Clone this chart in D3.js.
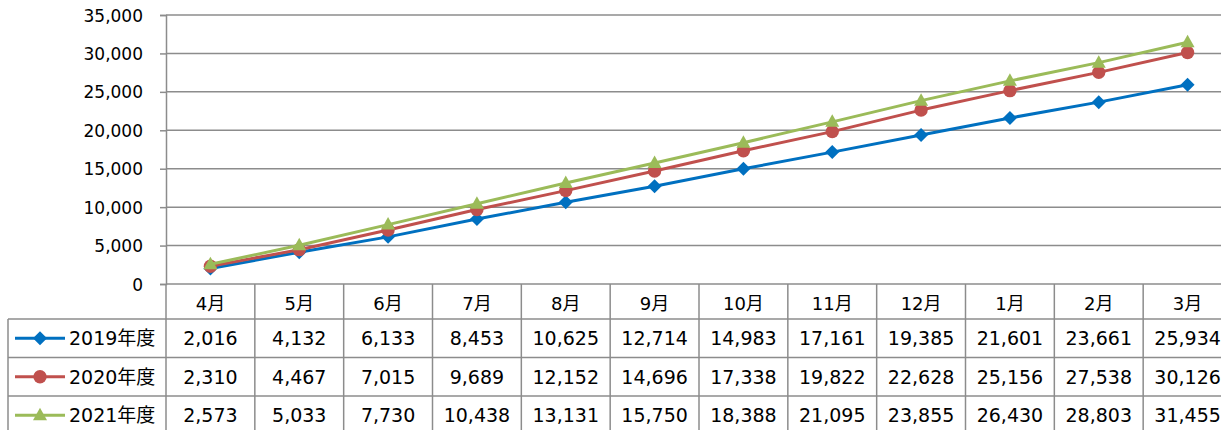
<!DOCTYPE html>
<html><head><meta charset="utf-8">
<script src="https://cdn.jsdelivr.net/npm/d3@7"></script>
<style>body{margin:0;background:#fff;} text{font-family:"DejaVu Sans","Noto Sans CJK JP",sans-serif;}</style>
</head><body>
<svg id="c" width="1221" height="430"></svg>
<script>
const categories = ["4月","5月","6月","7月","8月","9月","10月","11月","12月","1月","2月","3月"];
const seriesNames = ["2019年度","2020年度","2021年度"];
const s2019 = [2016,4132,6133,8453,10625,12714,14983,17161,19385,21601,23661,25934];
const s2020 = [2310,4467,7015,9689,12152,14696,17338,19822,22628,25156,27538,30126];
const s2021 = [2573,5033,7730,10438,13131,15750,18388,21095,23855,26430,28803,31455];
const yTicks = [0,5000,10000,15000,20000,25000,30000,35000];
const colors = ["#0070C0","#C0504D","#9BBB59"];
const markers = ["diamond","circle","triangle"];
const series = [s2019,s2020,s2021];

const svg = d3.select("#c");
const pLeft = 166, pRight = 1232, pTop = 15, pBottom = 284;
const x = d3.scaleBand().domain(categories).range([pLeft,pRight]);
const y = d3.scaleLinear().domain([0,35000]).range([pBottom,pTop]);
const grid = "#8c8c8c";
const fmt = d3.format(",");

const yAxis = d3.axisLeft(y).tickValues(yTicks).tickSize(6).tickFormat(fmt);
const ga = svg.append("g").attr("transform",`translate(${pLeft},0)`).call(yAxis);
ga.select(".domain").attr("stroke",grid).attr("stroke-width",1.5);
ga.selectAll(".tick line").attr("stroke",grid).attr("stroke-width",1.5);
ga.selectAll(".tick text").attr("x",-23).attr("dy","0.36em").attr("font-size",17).attr("fill","#000")
  .style("font-family",'"DejaVu Sans",sans-serif');
svg.append("g").selectAll("line").data(yTicks).join("line")
  .attr("x1",pLeft).attr("x2",pRight).attr("y1",d=>y(d)).attr("y2",d=>y(d))
  .attr("stroke",grid).attr("stroke-width",1.5);

const rowH = 38.5, headH = 35;
const tableLeft = 8;
const rowTops = [pBottom+headH, pBottom+headH+rowH, pBottom+headH+2*rowH];
const tb = svg.append("g");
rowTops.forEach(t=>{
  tb.append("line").attr("x1",tableLeft).attr("x2",pRight).attr("y1",t).attr("y2",t).attr("stroke",grid).attr("stroke-width",1.5);
});
tb.append("line").attr("x1",tableLeft).attr("x2",tableLeft).attr("y1",rowTops[0]).attr("y2",440).attr("stroke",grid).attr("stroke-width",1.5);
tb.append("line").attr("x1",pLeft).attr("x2",pLeft).attr("y1",pBottom).attr("y2",440).attr("stroke",grid).attr("stroke-width",1.5);
categories.forEach(c=>{
  tb.append("line").attr("x1",x(c)+x.bandwidth()).attr("x2",x(c)+x.bandwidth()).attr("y1",pBottom).attr("y2",440).attr("stroke",grid).attr("stroke-width",1.5);
});
tb.selectAll("text.h").data(categories).join("text").attr("class","h")
  .attr("x",d=>x(d)+x.bandwidth()/2).attr("y",pBottom+25.5)
  .attr("text-anchor","middle").attr("font-size",18).text(d=>d);
series.forEach((s,i)=>{
  tb.selectAll("text.v"+i).data(s).join("text").attr("class","v"+i)
    .attr("x",(d,j)=>x(categories[j])+x.bandwidth()/2).attr("y",rowTops[i]+rowH/2+7)
    .attr("text-anchor","middle").attr("font-size",19).text(d=>fmt(d));
});

function markerPath(type){
  if(type==="diamond") return "M0,-7L7,0L0,7L-7,0Z";
  if(type==="circle") return d3.symbol(d3.symbolCircle, 140)();
  return "M0,-7.5L7,5L-7,5Z";
}

seriesNames.forEach((n,i)=>{
  const cy = rowTops[i]+rowH/2;
  tb.append("line").attr("x1",15).attr("x2",65).attr("y1",cy).attr("y2",cy).attr("stroke",colors[i]).attr("stroke-width",3);
  tb.append("path").attr("d",markerPath(markers[i])).attr("transform",`translate(40,${cy})`).attr("fill",colors[i]);
  tb.append("text").attr("x",69).attr("y",cy+7).attr("font-size",19).text(n);
});

const line = d3.line().x((d,j)=>x(categories[j])+x.bandwidth()/2).y(d=>y(d));
series.forEach((s,i)=>{
  const g = svg.append("g");
  g.append("path").datum(s).attr("d",line).attr("fill","none").attr("stroke",colors[i]).attr("stroke-width",3).attr("stroke-linejoin","round");
  g.selectAll("path.m").data(s).join("path").attr("class","m")
    .attr("d",markerPath(markers[i]))
    .attr("transform",(d,j)=>`translate(${x(categories[j])+x.bandwidth()/2},${y(d)})`)
    .attr("fill",colors[i]);
});
</script>
</body></html>
